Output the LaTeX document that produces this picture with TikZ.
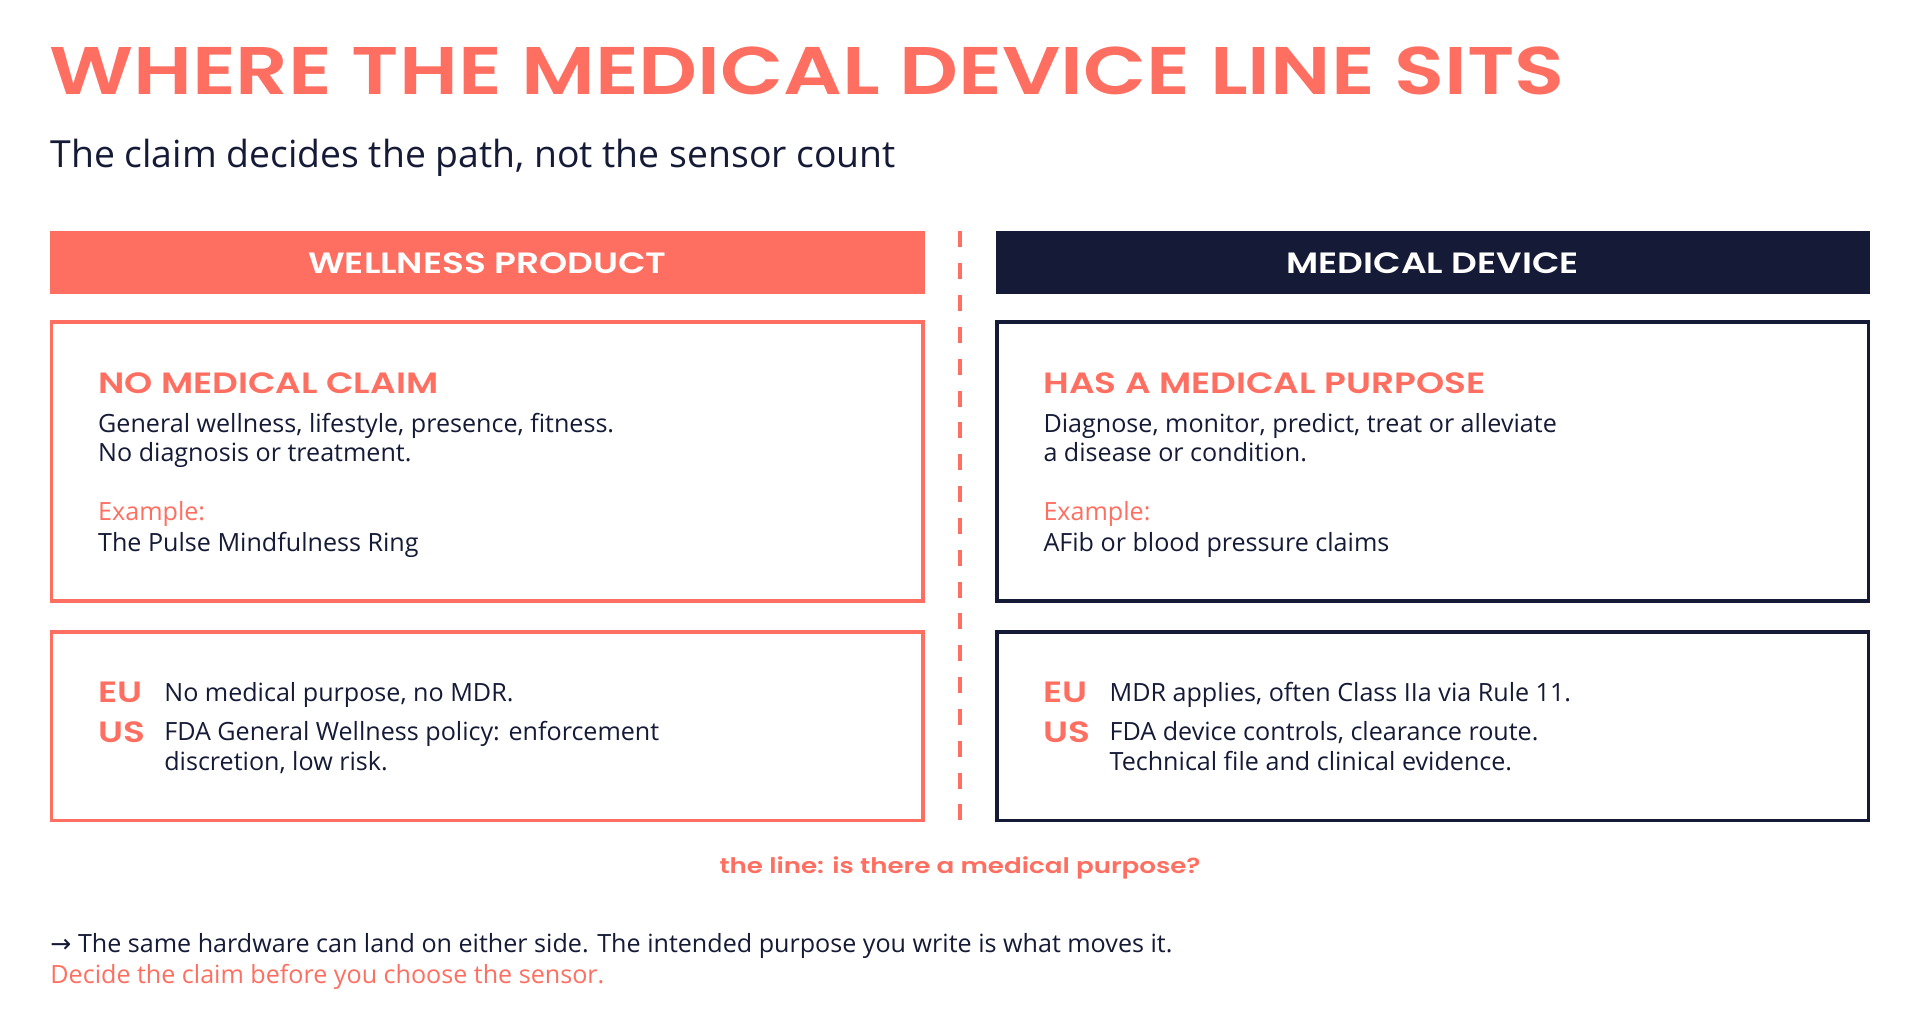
\documentclass[tikz,border=0pt]{standalone}
\usepackage{fontspec}
\setmainfont{Open Sans}
\newfontfamily\head{Poppins}[UprightFont=*-SemiBold,FakeStretch=1.22]
\newfontfamily\sym{DejaVu Sans}
\definecolor{coral}{HTML}{FF6F61}
\definecolor{navy}{HTML}{151A36}
\begin{document}
\begin{tikzpicture}[x=1pt,y=-1pt,
 hdr/.style={anchor=center,text=white,font=\head\fontsize{24}{28}\selectfont},
 box/.style={line width=3pt},
 tx/.style={anchor=base west,inner sep=0,text=navy,font=\fontsize{20.5}{24}\selectfont},
 ctx/.style={tx,text=coral},
 sh/.style={anchor=base west,inner sep=0,text=coral,font=\head\fontsize{24}{28}\selectfont}]
\useasboundingbox (0,0) rectangle (1568,843);
\fill[white] (0,0) rectangle (1568,843);
\node[anchor=base west,inner sep=0,text=coral,font=\head\fontsize{55}{60}\selectfont] (title) at (40,77) {WHERE THE MEDICAL DEVICE LINE SITS};
\node[tx,font=\fontsize{30.5}{34}\selectfont] (sub) at (41,137) {The claim decides the path, not the sensor count};
\fill[coral] (41,189) rectangle (755,240);
\fill[navy] (813,189) rectangle (1527,240);
\node[hdr] (hl) at (398,215) {WELLNESS PRODUCT};
\node[hdr] (hr) at (1170,215) {MEDICAL DEVICE};
\draw[coral,line width=3pt,dash pattern=on 13pt off 13pt] (784,189) -- (784,670);
\draw[box,coral] (42,263) rectangle (754,491);
\draw[box,navy] (814,263) rectangle (1526,491);
\draw[box,coral] (42,516) rectangle (754,670);
\draw[box,navy] (814,516) rectangle (1526,670);
% left top
\node[sh] (l1) at (80,321) {NO MEDICAL CLAIM};
\node[tx] (l2) at (80,353) {General wellness, lifestyle, presence, fitness.};
\node[tx] (l3) at (80,377) {No diagnosis or treatment.};
\node[ctx] (l4) at (80,425) {Example:};
\node[tx] (l5) at (80,450) {The Pulse Mindfulness Ring};
% right top
\node[sh] (r1) at (852,321) {HAS A MEDICAL PURPOSE};
\node[tx] (r2) at (852,353) {Diagnose, monitor, predict, treat or alleviate};
\node[tx] (r3) at (852,377) {a disease or condition.};
\node[ctx] (r4) at (852,425) {Example:};
\node[tx] (r5) at (852,450) {AFib or blood pressure claims};
% left bottom
\node[sh] (leu) at (80,574) {EU};
\node[tx] (leut) at (134,573) {No medical purpose, no MDR.};
\node[sh] (lus) at (80,606) {US};
\node[tx] (lust) at (134,605) {FDA General Wellness policy: enforcement};
\node[tx] (lust2) at (134,629) {discretion, low risk.};
% right bottom
\node[sh] (reu) at (852,574) {EU};
\node[tx] (reut) at (906,573) {MDR applies, often Class IIa via Rule 11.};
\node[sh] (rus) at (852,606) {US};
\node[tx] (rust) at (906,605) {FDA device controls, clearance route.};
\node[tx] (rust2) at (906,629) {Technical file and clinical evidence.};
\node[anchor=base,inner sep=0,text=coral,font=\head\fontsize{17.5}{22}\selectfont] (line) at (784,713) {the line: is there a medical purpose?};
\node[tx] (f1) at (41,778) {{\sym →} The same hardware can land on either side. The intended purpose you write is what moves it.};
\node[ctx] (f2) at (41,803) {Decide the claim before you choose the sensor.};
\end{tikzpicture}
\end{document}
